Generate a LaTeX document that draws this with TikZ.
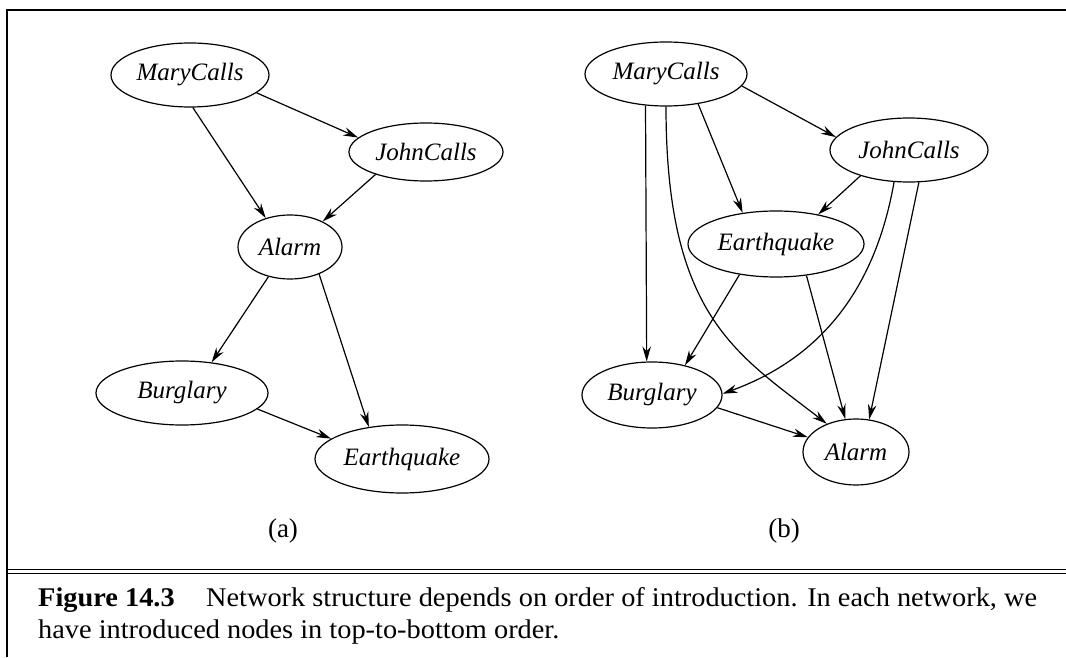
\documentclass[tikz,border=0pt]{standalone}
\usepackage{fontspec}
\setmainfont{Liberation Serif}
\newfontfamily\capfont[FakeStretch=1.05]{Liberation Serif}
\usetikzlibrary{shapes.geometric,arrows.meta}
\begin{document}
\begin{tikzpicture}[x=1pt,y=1pt]
	\tikzset{v/.style={draw,ellipse,inner sep=0pt,line width=1.2pt,font=\itshape\fontsize{25}{30}\selectfont},
		e/.style={line width=1.2pt,-{Stealth[length=15pt,width=8.5pt]}},
		lbl/.style={font=\fontsize{27}{32}\selectfont}}
	\useasboundingbox(0,0)rectangle(1066,657);
	% frame
	\draw[line width=1.4pt](7,0)--(7,647)--(1066,647);
	\draw[line width=0.9pt](7,88)--(1066,88)(7,84)--(1066,84);
	% (a)
	\path(190,582)node[v,minimum width=158pt,minimum height=64pt](mcA){MaryCalls}
	(426,505)node[v,minimum width=154pt,minimum height=58pt](jcA){JohnCalls}
	(290,410)node[v,minimum width=104pt,minimum height=64pt](alA){Alarm}
	(182,264)node[v,minimum width=172pt,minimum height=64pt](buA){Burglary}
	(402,198)node[v,minimum width=174pt,minimum height=68pt](eqA){Earthquake};
	% (b)
	\path(666,583)node[v,minimum width=162pt,minimum height=64pt](mcB){MaryCalls}
	(909,507)node[v,minimum width=158pt,minimum height=64pt](jcB){JohnCalls}
	(776,413)node[v,minimum width=176pt,minimum height=66pt](eqB){Earthquake}
	(652,262)node[v,minimum width=140pt,minimum height=66pt](buB){Burglary}
	(856,205)node[v,minimum width=106pt,minimum height=66pt](alB){Alarm};
	\foreach \x/\y in {
		mcA.-15/jcA.168,mcA.-85/alA.130,jcA.-156/alA.38,
		alA.234/buA.46,alA.-43/eqA.136,buA.-12/eqA.164,
		mcB.-9/jcB.170,mcB.-43/eqB.137,mcB.237/buB.99,
		jcB.208/eqB.35,jcB.-73/alB.68,
		eqB.220/buB.42,eqB.-46/alB.108,buB.-11/alB.163}
	\draw[e](\x)--(\y);
	\draw[e](mcB.south)..controls +(0,-210) and +(-90,70)..(alB.136);
	\draw[e](jcB.245)to[out=-100,in=20](buB.1);
	\path(283,126)node[lbl](la){(a)}(784,126)node[lbl](lb){(b)};
	% caption
	\path(38,51)node[anchor=base west,inner sep=0pt,lbl](c1){\capfont\makebox[999pt][s]{\textbf{Figure 14.3}\hspace{0.9em} Network structure depends on order of introduction. In each network, we}}
	(38,19)node[anchor=base west,inner sep=0pt,lbl](c2){\capfont have introduced nodes in top-to-bottom order.};
\end{tikzpicture}
\end{document}
